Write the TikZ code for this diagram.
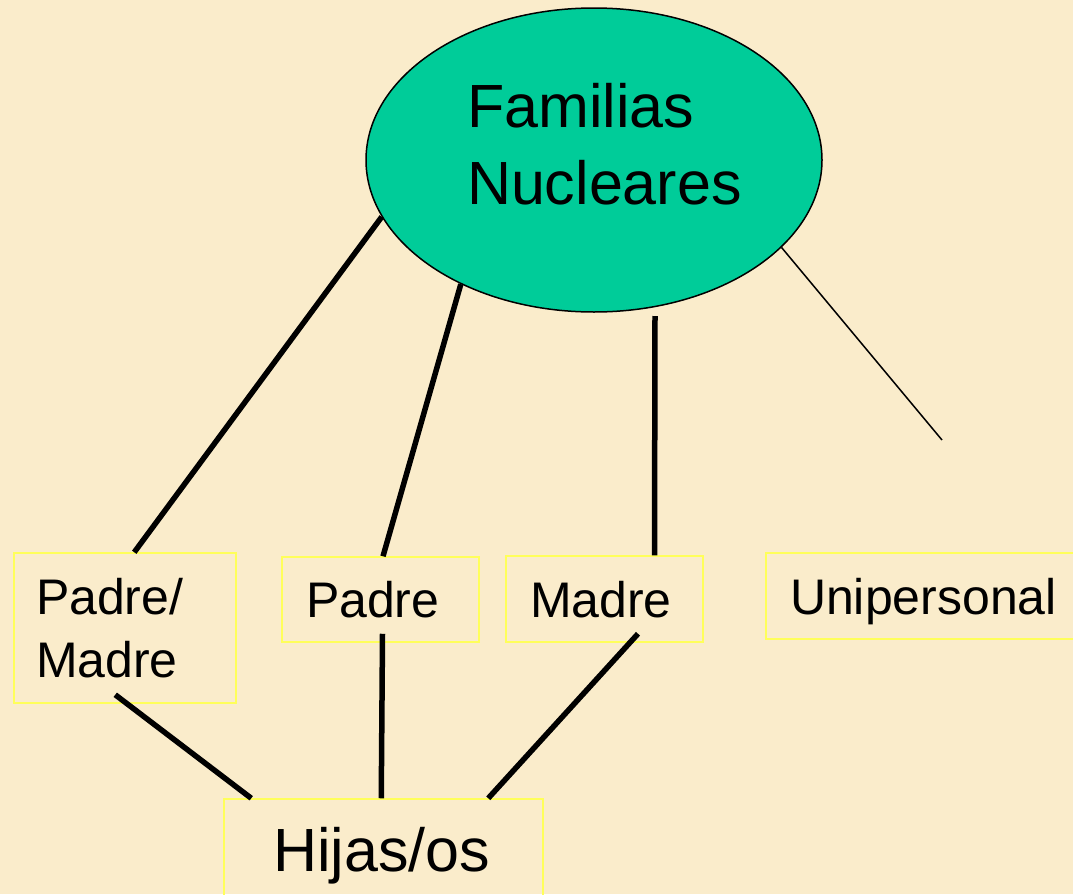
\documentclass[tikz,border=0pt]{standalone}
\usepackage{fontspec}
\setmainfont{Liberation Sans}
\usetikzlibrary{calc,shapes.geometric}
\definecolor{bgcream}{RGB}{250,236,203}
\definecolor{famgreen}{RGB}{0,204,153}
\definecolor{boxyellow}{RGB}{255,255,90}
\begin{document}
\begin{tikzpicture}[x=1pt,y=-1pt,
  caja/.style={draw=boxyellow,line width=1.5pt,inner sep=0pt,align=left,font=\fontsize{50}{63}\selectfont},
  gruesa/.style={line width=5.5pt},
  fina/.style={line width=1.5pt}]
\path[use as bounding box, clip] (0,0) rectangle (1073,894);
\fill[bgcream] (0,0) rectangle (1073,894);
\node[ellipse, draw=black, line width=1.5pt, fill=famgreen, minimum width=456pt, minimum height=304pt, inner sep=0pt] (fam) at (594,160) {};
\node[align=left, text width=290pt, inner sep=0pt, font=\fontsize{61}{77}\selectfont] (famtxt) at (612,143.75) {Familias\\Nucleares};
\node[caja, minimum width=222pt, minimum height=150pt, text width=178pt] (pm) at (125,628) {Padre/\\Madre};
\node[caja, minimum width=197pt, minimum height=85pt, text width=149pt, text height=36pt, text depth=0pt] (pa) at (380.5,599.5) {Padre};
\node[caja, minimum width=197pt, minimum height=86pt, text width=149pt, text height=36pt, text depth=0pt] (ma) at (604.5,599) {Madre};
\node[caja, minimum width=320pt, minimum height=86pt, text width=272pt, text height=36pt, text depth=0pt] (uni) at (926,596) {Unipersonal};
\node[caja, minimum width=319pt, minimum height=113pt, text width=221pt, text height=44pt, text depth=13pt, font=\fontsize{61}{73}\selectfont] (hij) at (383.5,855.5) {Hijas/os};
\draw[gruesa] (fam.195.4) -- ($(pm.north west)+(121,0)$);
\draw[gruesa] (fam.223) -- ($(pa.north)+(2.5,0)$);
\draw[gruesa] ($(fam.center)+(61,156)$) -- ($(ma.north)+(50,0)$);
\coordinate (unifin) at (942,440);
\draw[fina] (fam.335) -- (unifin);
\draw[gruesa] ($(pm.south west)+(102,-9)$) -- ($(hij.north west)+(28,0)$);
\draw[gruesa] ($(pa.south)+(2,-9)$) -- ($(hij.north west)+(158,0)$);
\draw[gruesa] ($(ma.south)+(33.5,-9)$) -- ($(hij.north west)+(265,0)$);
\end{tikzpicture}
\end{document}
